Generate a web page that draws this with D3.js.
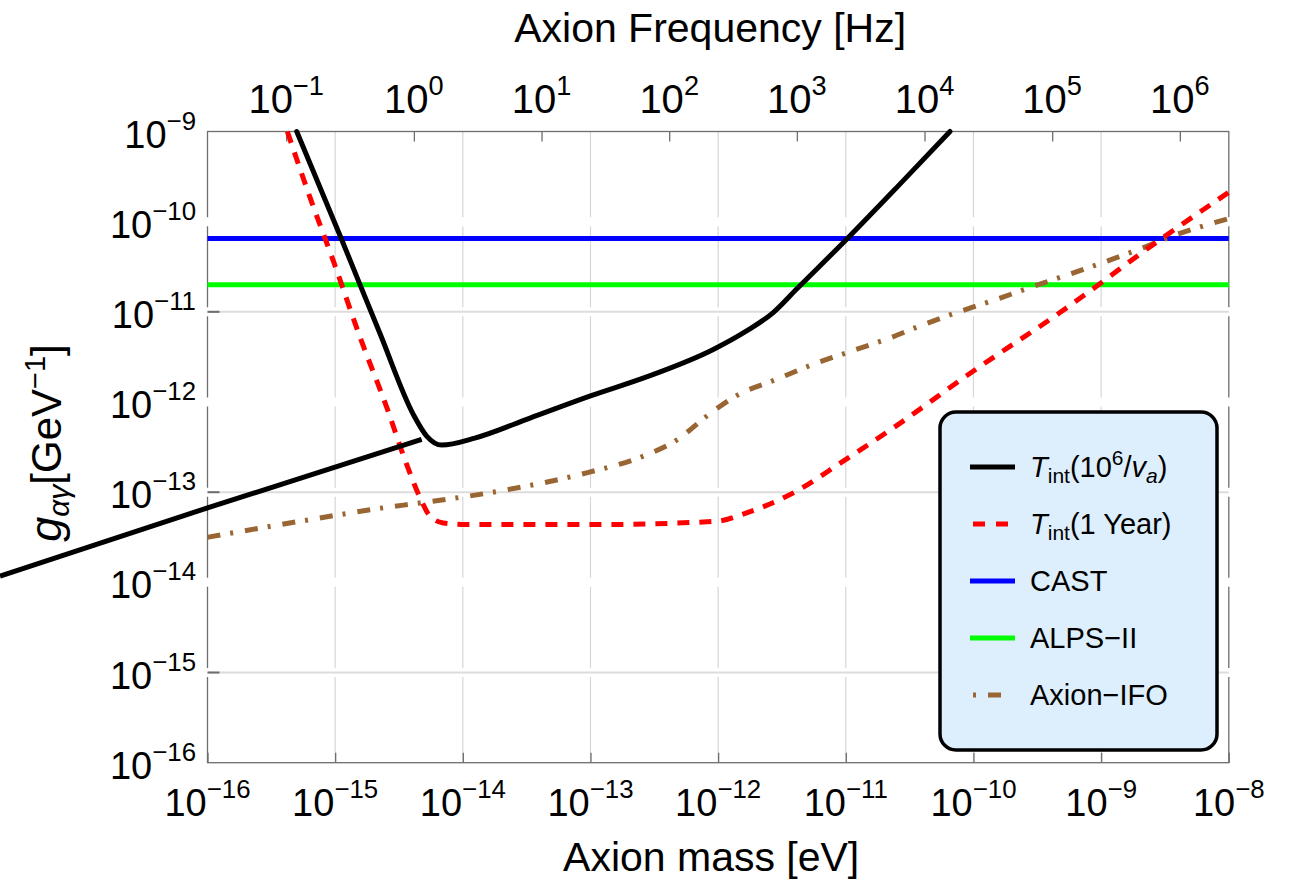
<!DOCTYPE html>
<html>
<head>
<meta charset="utf-8">
<title>Axion coupling reach</title>
<script src="https://d3js.org/d3.v7.min.js"></script>
<style>
body { margin: 0; background: #fff; }
svg { font-family: "Liberation Sans", Arial, sans-serif; }
</style>
</head>
<body>
<script>

// ---- data (mass in eV, coupling in GeV^-1) ----
// black curve, left straight piece (runs out past the frame)
var massTlong = [2.37e-18, 1.0e-16, 4.76e-15];
var gTlong    = [1.17e-14, 6.70e-14, 3.85e-13];

// black curve, T_int(10^6/v_a)
var massTnu = [5.0e-16, 1.12e-15, 1.57e-15, 2.24e-15, 4.09e-15, 5.21e-15, 6.84e-15, 1.24e-14,
               3.36e-14, 1.0e-13, 2.75e-13, 9.16e-13, 1.67e-12, 2.70e-12, 4.12e-12, 1.02e-11,
               2.51e-11, 6.55e-11];
var gTnu    = [1.0e-9, 6.43e-11, 1.98e-11, 5.78e-12, 7.30e-13, 4.19e-13, 3.33e-13, 3.98e-13,
               6.64e-13, 1.17e-12, 1.90e-12, 3.83e-12, 6.15e-12, 9.82e-12, 1.79e-11, 6.43e-11,
               2.40e-10, 1.0e-9];

// red dashed, T_int(1 Year)
var massTyear = [4.22e-16, 6.35e-16, 9.66e-16, 1.57e-15, 2.54e-15, 3.63e-15, 4.76e-15, 5.53e-15,
                 7.03e-15, 1.07e-14, 1.19e-13, 9.75e-13, 1.67e-12, 3.88e-12, 9.55e-12, 2.36e-11,
                 1.0e-10, 4.76e-10, 3.07e-9, 1.0e-8];
var gTyear    = [1.0e-9, 1.86e-10, 3.69e-11, 5.18e-12, 8.65e-13, 2.03e-13, 7.94e-14, 5.41e-14,
                 4.56e-14, 4.38e-14, 4.38e-14, 4.76e-14, 5.89e-14, 9.82e-14, 2.21e-13, 5.18e-13,
                 2.21e-12, 9.82e-12, 6.70e-11, 2.12e-10];

// brown dot-dash, Axion-IFO
var massIFO = [1.0e-16, 5.31e-16, 2.38e-15, 4.62e-15, 1.95e-14, 9.33e-14, 2.59e-13, 4.73e-13,
               8.34e-13, 1.43e-12, 2.88e-12, 5.56e-12, 1.02e-11, 2.09e-11, 3.81e-11, 7.40e-11,
               1.52e-10, 2.77e-10, 6.82e-10, 2.01e-9, 3.67e-9, 1.0e-8];
var gIFO    = [3.16e-14, 4.76e-14, 6.70e-14, 7.60e-14, 1.03e-13, 1.64e-13, 2.51e-13, 3.78e-13,
               7.18e-13, 1.20e-12, 1.79e-12, 2.62e-12, 3.53e-12, 4.98e-12, 6.98e-12, 9.82e-12,
               1.38e-11, 1.86e-11, 2.86e-11, 4.98e-11, 6.98e-11, 1.08e-10];

// flat limits
var gCAST = 6.5e-11;
var gALPS = 2.0e-11;

// ticks (powers of ten)
var massExps = [-16, -15, -14, -13, -12, -11, -10, -9, -8];
var gExps    = [-16, -15, -14, -13, -12, -11, -10, -9];
var freqExps = [-1, 0, 1, 2, 3, 4, 5, 6];
var gridMassExps = [-15, -14, -13, -12, -11, -10, -9];
var gridGExps    = [-15, -13, -11];

var legendNames  = ["T_int(10^6/v_a)", "T_int(1 Year)", "CAST", "ALPS\u2212II", "Axion\u2212IFO"];
var legendColors = ["#000000", "#ff0000", "#0000ff", "#00ff00", "#996633"];

var planck = 4.135667696e-15; // eV s, mass -> frequency

// ---- layout ----
var width = 1291, height = 892;
var pL = 207.5, pR = 1228.8, pT = 131.5, pB = 762.7;
var frameCol = "#6e6e6e";

var x  = d3.scaleLog().domain([1e-16, 1e-8]).range([pL, pR]);
var y  = d3.scaleLog().domain([1e-16, 1e-9]).range([pB, pT]);
var xf = d3.scaleLog().domain([1e-16 / planck, 1e-8 / planck]).range([pL, pR]);

function p10(e) { return Math.pow(10, e); }

var svg = d3.select("body").append("svg")
    .attr("width", width)
    .attr("height", height);

// vertical grid
svg.append("g").selectAll("line")
    .data(gridMassExps).enter().append("line")
    .attr("x1", function(d) { return x(p10(d)); })
    .attr("x2", function(d) { return x(p10(d)); })
    .attr("y1", pT).attr("y2", pB)
    .attr("stroke", "#d6d6d6").attr("stroke-width", 1.2);

// frame
svg.append("rect")
    .attr("x", pL).attr("y", pT)
    .attr("width", pR - pL).attr("height", pB - pT)
    .attr("fill", "none").attr("stroke", frameCol).attr("stroke-width", 1.3);

// white bands at each inner decade (they break the frame and grid like the original)
svg.append("g").selectAll("line")
    .data(gExps.filter(function(d) { return d > -16 && d < -9; })).enter().append("line")
    .attr("x1", pL - 4).attr("x2", pR + 4)
    .attr("y1", function(d) { return y(p10(d)); })
    .attr("y2", function(d) { return y(p10(d)); })
    .attr("stroke", "#fff").attr("stroke-width", 9);

// horizontal grid + left ticks
svg.append("g").selectAll("line")
    .data(gridGExps).enter().append("line")
    .attr("x1", pL).attr("x2", pR)
    .attr("y1", function(d) { return y(p10(d)); })
    .attr("y2", function(d) { return y(p10(d)); })
    .attr("stroke", "#dcdcdc").attr("stroke-width", 2);
svg.append("g").selectAll("line")
    .data(gridGExps).enter().append("line")
    .attr("x1", pL).attr("x2", pL + 12)
    .attr("y1", function(d) { return y(p10(d)); })
    .attr("y2", function(d) { return y(p10(d)); })
    .attr("stroke", frameCol).attr("stroke-width", 2);

// bottom and top ticks
var axB = svg.append("g")
    .attr("transform", "translate(0," + pB + ")")
    .call(d3.axisBottom(x).tickValues(massExps.map(p10)).tickSize(-10).tickFormat(""));
var axT = svg.append("g")
    .attr("transform", "translate(0," + pT + ")")
    .call(d3.axisTop(xf).tickValues(freqExps.map(p10)).tickSize(-10).tickFormat(""));
[axB, axT].forEach(function(a) {
  a.select(".domain").remove();
  a.selectAll(".tick line").attr("stroke", frameCol).attr("stroke-width", 1.3);
});

// power-of-ten labels
function powLabel(g, px, py, e, anchor, size) {
  var t = g.append("text")
      .attr("x", px).attr("y", py)
      .attr("text-anchor", anchor)
      .attr("fill", "#000");
  t.append("tspan").attr("font-size", size).text("10");
  t.append("tspan").attr("font-size", size * 0.68).attr("dy", -18)
      .text(String(e).replace("-", "\u2212"));
}
var labs = svg.append("g");
massExps.forEach(function(e) { powLabel(labs, x(p10(e)), 816, e, "middle", 38); });
freqExps.forEach(function(e) { powLabel(labs, xf(p10(e)), 113, e, "middle", 40); });
gExps.forEach(function(e) { powLabel(labs, 196, y(p10(e)) + 16, e, "end", 38); });

// axis titles
svg.append("text").attr("x", (pL + pR) / 2 - 7).attr("y", 871)
    .attr("text-anchor", "middle").attr("font-size", 41).text("Axion mass [eV]");
svg.append("text").attr("x", (pL + pR) / 2 - 8).attr("y", 42)
    .attr("text-anchor", "middle").attr("font-size", 41).text("Axion Frequency [Hz]");

var yt = svg.append("text")
    .attr("transform", "translate(61,443) rotate(-90)")
    .attr("text-anchor", "middle");
yt.append("tspan").attr("font-size", 45).attr("font-style", "italic").text("g");
yt.append("tspan").attr("font-size", 30).attr("font-style", "italic").attr("dy", 8).text("\u03b1\u03b3");
yt.append("tspan").attr("font-size", 42).attr("dy", -8).text("[GeV");
yt.append("tspan").attr("font-size", 29).attr("dy", -16).text("\u22121");
yt.append("tspan").attr("font-size", 42).attr("dy", 16).text("]");

// ---- curves ----
var line = d3.line()
    .x(function(d) { return x(d[0]); })
    .y(function(d) { return y(d[1]); })
    .curve(d3.curveMonotoneX);

svg.append("line")
    .attr("x1", x(1e-16)).attr("x2", x(1e-8))
    .attr("y1", y(gCAST)).attr("y2", y(gCAST))
    .attr("stroke", "#0000ff").attr("stroke-width", 5);
svg.append("line")
    .attr("x1", x(1e-16)).attr("x2", x(1e-8))
    .attr("y1", y(gALPS)).attr("y2", y(gALPS))
    .attr("stroke", "#00ff00").attr("stroke-width", 5);

svg.append("path").datum(d3.zip(massIFO, gIFO))
    .attr("d", line).attr("fill", "none")
    .attr("stroke", "#996633").attr("stroke-width", 5)
    .attr("stroke-dasharray", "13,10,3,12");

svg.append("path").datum(d3.zip(massTyear, gTyear))
    .attr("d", line).attr("fill", "none")
    .attr("stroke", "#ff0000").attr("stroke-width", 5)
    .attr("stroke-dasharray", "12,10");

svg.append("path").datum(d3.zip(massTlong, gTlong))
    .attr("d", line).attr("fill", "none")
    .attr("stroke", "#000").attr("stroke-width", 5);

svg.append("path").datum(d3.zip(massTnu, gTnu))
    .attr("d", line).attr("fill", "none")
    .attr("stroke", "#000").attr("stroke-width", 5)
    .attr("stroke-linecap", "round").attr("stroke-linejoin", "round");

// ---- legend ----
var lg = svg.append("g");
lg.append("rect")
    .attr("x", 940).attr("y", 412).attr("width", 277).attr("height", 338)
    .attr("rx", 16).attr("ry", 16)
    .attr("fill", "#ddeefc").attr("stroke", "#000").attr("stroke-width", 3.5);

var dashes = [null, "12,11", null, null, "13,10,3,12"];
var offsets = [0, 0, 0, 0, 23];
legendNames.forEach(function(name, i) {
  var cy = 467 + i * 57;
  lg.append("line")
      .attr("x1", i == 1 || i == 4 ? 973 : 970).attr("x2", i == 4 ? 1011 : 1015)
      .attr("y1", cy).attr("y2", cy)
      .attr("stroke", legendColors[i]).attr("stroke-width", 5)
      .attr("stroke-dasharray", dashes[i])
      .attr("stroke-dashoffset", offsets[i]);
  var t = lg.append("text").attr("x", 1030).attr("y", cy + 10).attr("font-size", 29);
  if (i == 0) {
    t.append("tspan").attr("font-style", "italic").text("T");
    t.append("tspan").attr("font-size", 21).attr("dy", 6).text("int");
    t.append("tspan").attr("dy", -6).text("(10");
    t.append("tspan").attr("font-size", 21).attr("dy", -12).text("6");
    t.append("tspan").attr("dy", 12).text("/");
    t.append("tspan").attr("font-style", "italic").text("v");
    t.append("tspan").attr("font-size", 21).attr("font-style", "italic").attr("dy", 6).text("a");
    t.append("tspan").attr("dy", -6).text(")");
  } else if (i == 1) {
    t.append("tspan").attr("font-style", "italic").text("T");
    t.append("tspan").attr("font-size", 21).attr("dy", 6).text("int");
    t.append("tspan").attr("dy", -6).text("(1 Year)");
  } else {
    t.text(name);
  }
});

</script>
</body>
</html>
